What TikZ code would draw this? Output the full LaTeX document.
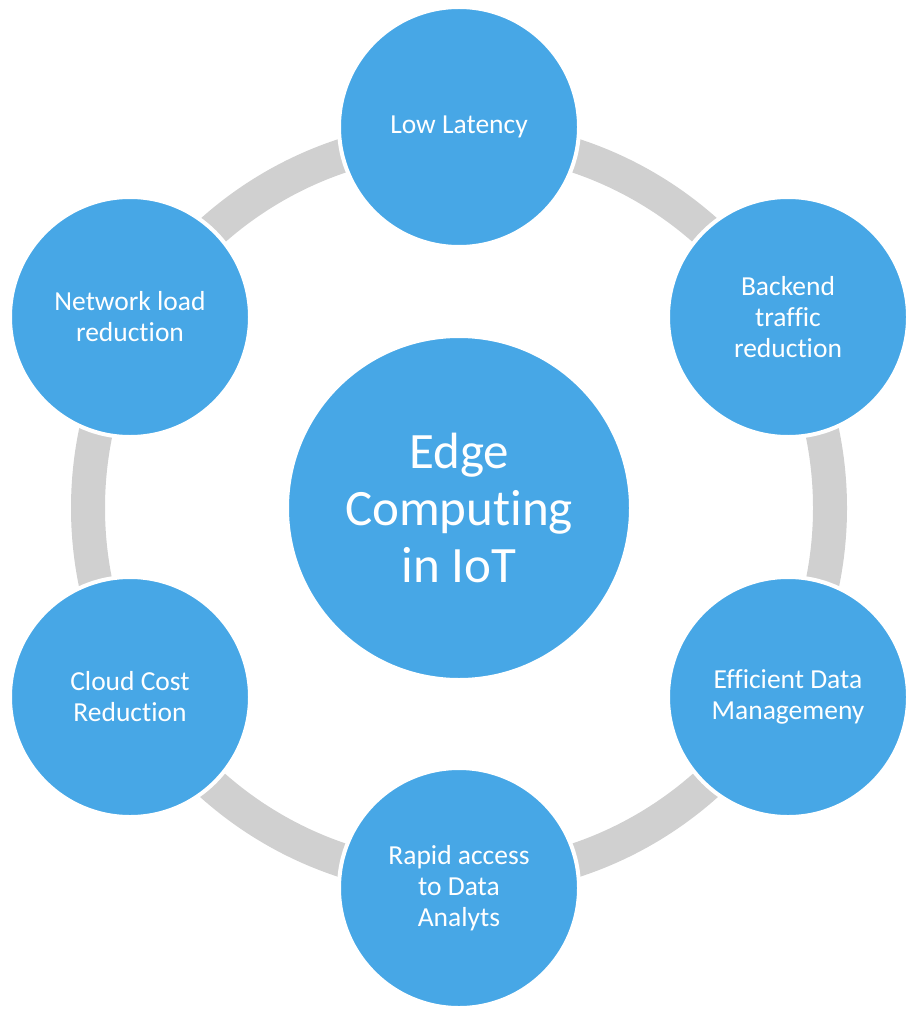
\documentclass[tikz,border=0pt]{standalone}
\usepackage{fontspec}
\setmainfont{Carlito}[Ligatures=NoCommon]
\definecolor{bubbleblue}{RGB}{71,167,230}
\definecolor{ringgray}{RGB}{208,208,208}
\newcommand{\nolig}{\kern0pt}
\tikzset{
  bubble/.style={circle,fill=bubbleblue,draw=white,line width=4pt,
    minimum size=240pt,inner sep=0pt,align=center,text=white,
    font=\fontsize{27.5}{31}\selectfont},
  hubbubble/.style={bubble,minimum size=344pt,font=\fontsize{51}{57}\selectfont},
  ringband/.style={draw=ringgray,line width=34pt}
}
\begin{document}
\begin{tikzpicture}[x=1pt,y=1pt]
\useasboundingbox (0,0) rectangle (922,-1024);
\coordinate (mid) at (459,-508);
\draw [ringband] (mid) circle [radius=371];

\node [hubbubble] (hub) at (mid) {Edge\\Comput\nolig ing\\in IoT};

\node [bubble] (latency) at (459,-127) {Low Latency};
\node [bubble] (backend) at (788,-317) {Backend\\traffic\\reduct\nolig ion};
\node [bubble] (datamgmt) at (788,-697) {Efficient Data\\Managemeny};
\node [bubble] (analytics) at (459,-888) {Rapid access\\to Data\\Analyts};
\node [bubble] (cloudcost) at (130,-697) {Cloud Cost\\Reduct\nolig ion};
\node [bubble] (netload) at (130,-317) {Network load\\reduct\nolig ion};
\end{tikzpicture}
\end{document}
